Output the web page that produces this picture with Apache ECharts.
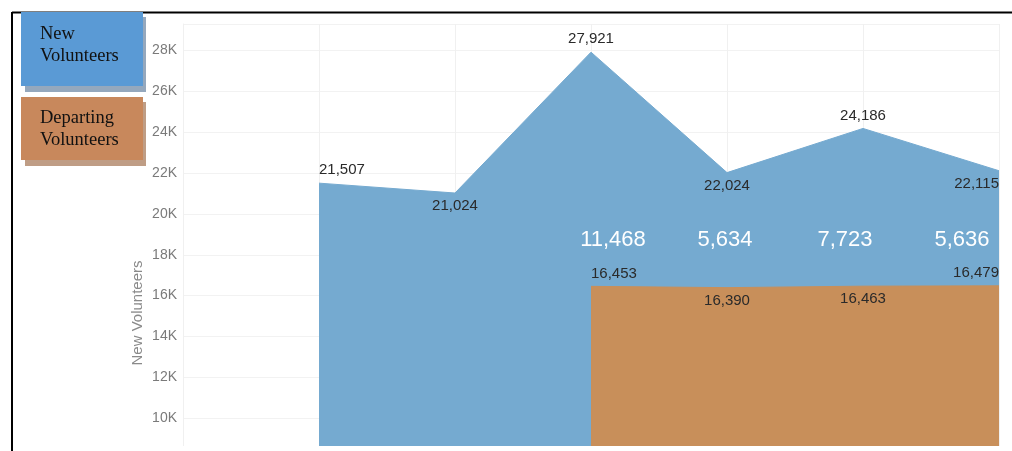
<!DOCTYPE html>
<html>
<head>
<meta charset="utf-8">
<script src="https://cdn.jsdelivr.net/npm/echarts@6/dist/echarts.min.js"></script>
<style>
html,body{margin:0;padding:0;background:#fff;}
#chart{width:1012px;height:451px;}
</style>
</head>
<body>
<div id="chart"></div>
<script>
// ---- data ----
const categories = ['', 'Period 1', 'Period 2', 'Period 3', 'Period 4', 'Period 5', 'Period 6'];
const newVolunteers = [null, 21507, 21024, 27921, 22024, 24186, 22115];
const departingVolunteers = [null, null, null, 16453, 16390, 16463, 16479];
const yTicks = [10000, 12000, 14000, 16000, 18000, 20000, 22000, 24000, 26000, 28000];
const legendNames = ['New\nVolunteers', 'Departing\nVolunteers'];
const yAxisTitle = 'New Volunteers';

// ---- styles ----
const BLUE = '#75aad0';
const ORANGE = '#c88f5a';
const LABEL_FONT = 'Liberation Sans, Arial, sans-serif';
const DIFF_LEVEL = 18750; // vertical level for the net-difference labels

const chart = echarts.init(document.getElementById('chart'), null, {renderer: 'canvas'});

const newPos = ['top', 'bottom', 'top', 'bottom', 'top', 'bottom'];
const depPos = ['top', 'bottom', 'bottom', 'top'];

function labelFor(i, first, last, pos) {
  let align = 'center';
  if (i === first) align = 'left';
  if (i === last) align = 'right';
  return {show: true, position: pos, align: align};
}

const firstNew = newVolunteers.findIndex(v => v != null);
const lastNew = newVolunteers.length - 1;
const newData = newVolunteers.map((v, i) => v == null ? null : {
  value: v, label: labelFor(i, firstNew, lastNew, newPos[i - firstNew])
});
const firstDep = departingVolunteers.findIndex(v => v != null);
const lastDep = departingVolunteers.length - 1;
const depData = departingVolunteers.map((v, i) => v == null ? null : {
  value: v, label: labelFor(i, firstDep, lastDep, depPos[i - firstDep])
});
const diffOffsets = [22, -2, -18, -37];
const diffData = departingVolunteers.map((v, i) => v == null ? null : {
  value: DIFF_LEVEL,
  diff: newVolunteers[i] - v,
  label: {offset: [diffOffsets[i - firstDep], 0]}
});

const hiddenSymbol = {symbol: 'circle', symbolSize: 1, showSymbol: true, itemStyle: {color: 'rgba(0,0,0,0)', borderWidth: 0}};
const valueLabel = {show: true, color: '#2a2a2a', fontSize: 15, fontFamily: LABEL_FONT,
  formatter: p => p.value.toLocaleString('en-US'), distance: 5};

const option = {
  animation: false,
  backgroundColor: '#fff',
  grid: {left: 183, right: 13, top: 24, height: 435, containLabel: false, outerBoundsMode: 'none'},
  xAxis: {
    type: 'category',
    data: categories,
    boundaryGap: false,
    axisLine: {show: false},
    axisTick: {show: false},
    axisLabel: {show: false},
    splitLine: {show: true, lineStyle: {color: '#f0f0f0', width: 1}}
  },
  yAxis: {
    type: 'value',
    min: 8000,
    max: 29300,
    interval: 2000,
    axisLine: {show: true, lineStyle: {color: '#f0f0f0'}},
    axisTick: {show: false},
    axisLabel: {
      showMaxLabel: false,
      color: '#7a7a7a', fontSize: 14, fontFamily: LABEL_FONT, margin: 6,
      formatter: v => yTicks.indexOf(v) >= 0 ? (v / 1000) + 'K' : ''
    },
    splitLine: {show: true, lineStyle: {color: '#f2f2f2', width: 1}}
  },
  series: [
    Object.assign({
      name: 'New Volunteers',
      type: 'line',
      data: newData,
      lineStyle: {color: BLUE, width: 1},
      areaStyle: {color: BLUE, opacity: 1},
      label: valueLabel,
      z: 2
    }, hiddenSymbol),
    Object.assign({
      name: 'Departing Volunteers',
      type: 'line',
      data: depData,
      lineStyle: {color: ORANGE, width: 1},
      areaStyle: {color: ORANGE, opacity: 1},
      label: valueLabel,
      z: 3
    }, hiddenSymbol),
    Object.assign({
      name: 'Difference',
      type: 'line',
      data: diffData,
      lineStyle: {opacity: 0},
      label: {show: true, position: 'inside', color: '#fff', fontSize: 22, fontFamily: LABEL_FONT,
        formatter: p => p.data.diff.toLocaleString('en-US')},
      z: 4
    }, hiddenSymbol)
  ],
  graphic: [
    // bottom white strip (plot is cut off at the frame)
    {type: 'rect', shape: {x: 0, y: 446, width: 1012, height: 10}, style: {fill: '#fff'}, z: 100},
    // frame
    {type: 'line', shape: {x1: 12, y1: 12.5, x2: 1012, y2: 12.5}, style: {stroke: '#000', lineWidth: 2}, z: 101},
    {type: 'line', shape: {x1: 12, y1: 12, x2: 12, y2: 451}, style: {stroke: '#000', lineWidth: 2}, z: 101},
    // y axis title
    {type: 'text', x: 138, y: 313, rotation: Math.PI / 2,
      style: {text: yAxisTitle, fill: '#8a8a8a', font: '15px "Liberation Sans", Arial, sans-serif', align: 'center', verticalAlign: 'middle'}, z: 50},
    // legend boxes
    {type: 'rect', shape: {x: 25, y: 17, width: 121, height: 75}, style: {fill: '#95a8bd'}, z: 102},
    {type: 'rect', shape: {x: 21, y: 12, width: 122, height: 74}, style: {fill: '#5a9ad5'}, z: 103},
    {type: 'text', x: 40, y: 23, style: {text: legendNames[0], fill: '#111', font: '18.5px "Liberation Serif", "Times New Roman", serif', lineHeight: 22}, z: 104},
    {type: 'rect', shape: {x: 25, y: 102, width: 121, height: 64}, style: {fill: '#bf9d85'}, z: 102},
    {type: 'rect', shape: {x: 21, y: 97, width: 122, height: 63}, style: {fill: '#c8885c'}, z: 103},
    {type: 'text', x: 40, y: 107, style: {text: legendNames[1], fill: '#111', font: '18.5px "Liberation Serif", "Times New Roman", serif', lineHeight: 22}, z: 104}
  ]
};
chart.setOption(option);
</script>
</body>
</html>
